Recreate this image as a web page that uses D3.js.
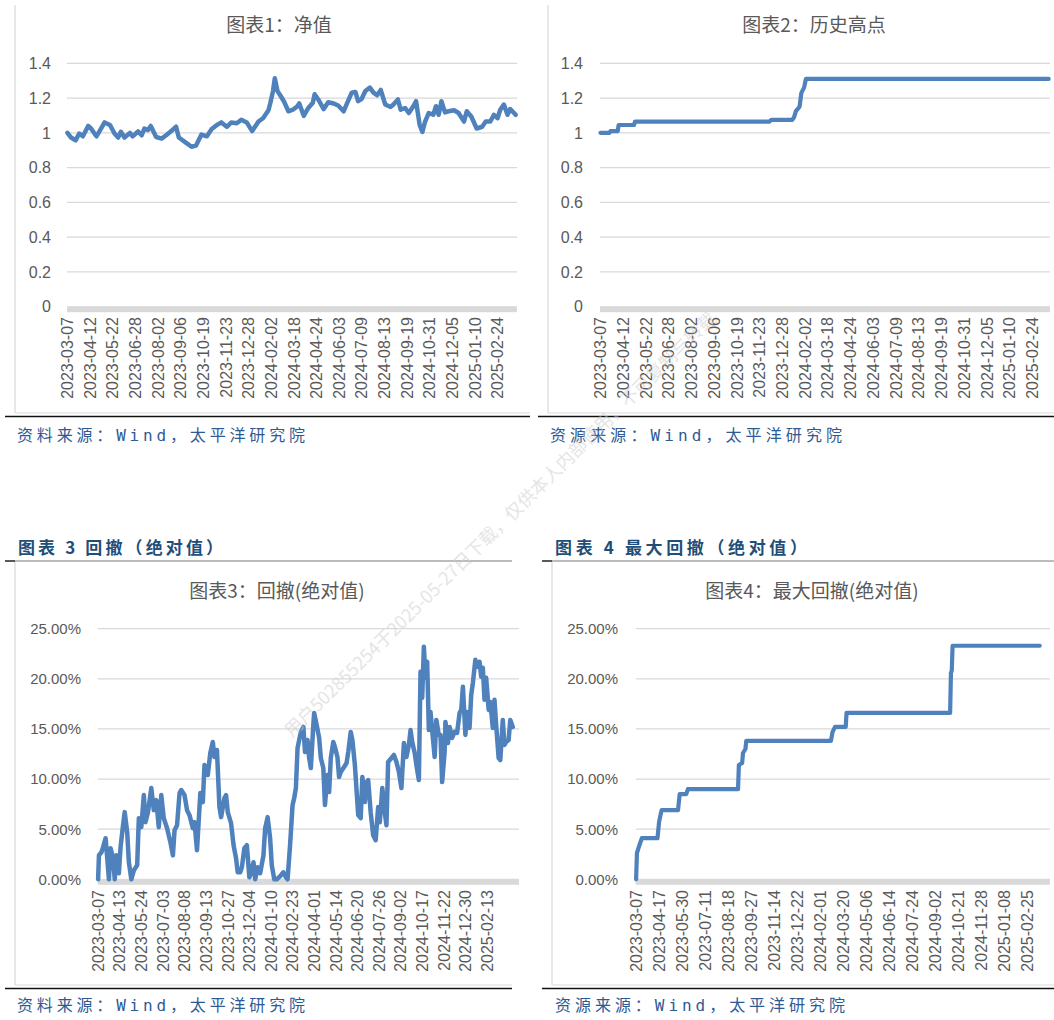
<!DOCTYPE html>
<html lang="zh">
<head>
<meta charset="UTF-8">
<title>净值与回撤</title>
<script src="https://d3js.org/d3.v7.min.js"></script>
<style>
  body { margin: 0; background: #fff; }
  svg { display: block; }
  .tick { font-family: "Liberation Sans", Arial, sans-serif; fill: #595959; }
  .title { font-family: "Noto Sans CJK SC", sans-serif; font-size: 19px; fill: #595959; }
  .header { font-family: "Noto Sans CJK SC", sans-serif; font-size: 17px; font-weight: bold; fill: #1F4E79; }
  .source { font-family: "DejaVu Sans Mono", "Noto Sans CJK SC", monospace; font-size: 16px; fill: #2E5A94; }
  .wm { font-family: "Noto Sans CJK SC", sans-serif; font-size: 18px; fill: #cccccc; opacity: 0.5; }
</style>
</head>
<body>
<svg id="chart" width="1054" height="1020"></svg>
<script>
// x labels: one label every 25 / 26 / 28 trading days
const labels1 = ["2023-03-07","2023-04-12","2023-05-22","2023-06-28","2023-08-02","2023-09-06","2023-10-19","2023-11-23","2023-12-28","2024-02-02","2024-03-18","2024-04-24","2024-06-03","2024-07-09","2024-08-13","2024-09-19","2024-10-31","2024-12-05","2025-01-10","2025-02-24"];
const labels3 = ["2023-03-07","2023-04-13","2023-05-24","2023-07-03","2023-08-08","2023-09-13","2023-10-27","2023-12-04","2024-01-10","2024-02-23","2024-04-01","2024-05-14","2024-06-20","2024-07-26","2024-09-02","2024-10-17","2024-11-22","2024-12-30","2025-02-13"];
const labels4 = ["2023-03-07","2023-04-17","2023-05-30","2023-07-11","2023-08-18","2023-09-27","2023-11-14","2023-12-22","2024-02-01","2024-03-20","2024-05-06","2024-06-14","2024-07-24","2024-09-02","2024-10-21","2024-11-28","2025-01-08","2025-02-25"];

const ticksNav = [0, 0.2, 0.4, 0.6, 0.8, 1, 1.2, 1.4];
const ticksPct = [0, 5, 10, 15, 20, 25];

// 净值 [trading-day index, value]
const nav = [[0,1.00],[4,0.973],[9,0.957],[13,0.996],[17,0.98],[23,1.04],[26,1.025],[32,0.98],[35,1.006],[41,1.06],[47,1.045],[52,0.996],[56,0.973],[59,1.006],[63,0.973],[69,1.0],[72,0.98],[78,1.008],[82,0.986],[85,1.025],[89,1.016],[92,1.04],[98,0.976],[104,0.967],[109,0.986],[115,1.012],[120,1.035],[123,0.973],[130,0.947],[137,0.92],[142,0.927],[148,0.99],[154,0.98],[159,1.02],[165,1.045],[170,1.06],[176,1.035],[181,1.06],[187,1.055],[192,1.075],[198,1.06],[204,1.01],[211,1.065],[216,1.084],[222,1.13],[224,1.17],[227,1.24],[229,1.314],[232,1.24],[235,1.216],[239,1.182],[244,1.124],[249,1.133],[254,1.153],[256,1.169],[261,1.098],[266,1.143],[271,1.173],[273,1.222],[277,1.192],[283,1.137],[288,1.176],[294,1.169],[299,1.157],[305,1.124],[309,1.173],[314,1.231],[318,1.235],[321,1.182],[325,1.196],[329,1.241],[334,1.26],[338,1.231],[342,1.216],[346,1.247],[351,1.163],[357,1.149],[360,1.163],[365,1.192],[368,1.133],[373,1.143],[377,1.114],[382,1.153],[385,1.182],[389,1.045],[392,1.006],[395,1.065],[399,1.114],[404,1.104],[407,1.153],[410,1.104],[413,1.182],[417,1.118],[421,1.124],[427,1.13],[432,1.114],[438,1.065],[441,1.124],[446,1.094],[452,1.025],[458,1.035],[462,1.065],[467,1.065],[471,1.104],[475,1.084],[478,1.133],[482,1.163],[486,1.104],[489,1.137],[495,1.104]];

// 历史高点 (step breakpoints)
const high = [[0,1.0],[10,1.0],[11,1.01],[19,1.01],[20,1.045],[37,1.045],[38,1.065],[186,1.065],[188,1.075],[211,1.075],[213,1.09],[215,1.125],[219,1.15],[221,1.23],[224,1.26],[226,1.31],[493,1.31]];

// 回撤(绝对值), %
const drawdown = [[0,0],[1,2.4],[4,2.7],[6,3.2],[9,4.1],[11,2.1],[13,0],[15,3.1],[18,2.1],[20,0],[22,2.4],[25,0.6],[27,3.2],[30,5.4],[32,6.7],[35,4.7],[37,1.7],[40,0],[43,0.9],[47,1.4],[49,6.1],[52,5.2],[55,8.4],[57,5.7],[60,6.7],[64,9.1],[67,6.9],[70,7.9],[73,5.2],[76,8.4],[79,6.1],[83,5.1],[87,3.7],[90,2.4],[92,4.9],[95,5.4],[98,8.6],[100,8.9],[104,8.4],[107,6.9],[110,6.4],[114,5.1],[116,5.7],[119,2.9],[123,8.6],[126,7.7],[128,11.4],[132,10.4],[135,12.6],[138,13.7],[140,12.2],[143,12.9],[146,7.2],[148,6.2],[152,8.1],[154,8.4],[156,6.7],[160,5.6],[163,3.4],[166,2.1],[168,0.7],[171,0.7],[173,1.2],[176,3.1],[179,3.4],[182,0.2],[184,0.6],[187,1.7],[189,0],[192,1.2],[195,0.6],[199,2.4],[201,5.1],[204,6.2],[207,4.1],[209,1.4],[212,0],[215,0],[220,0.4],[223,0.7],[226,0.2],[228,0],[231,3.4],[234,7.4],[236,8.1],[238,9.1],[240,13.1],[242,13.9],[244,14.7],[247,15.2],[249,12.7],[252,13.9],[254,12.1],[256,11.1],[259,15.4],[260,16.6],[263,15.4],[266,14.1],[268,12.1],[271,11.1],[273,7.4],[276,10.4],[278,8.7],[280,12.1],[283,13.7],[285,13.2],[288,12.2],[290,10.2],[292,10.7],[296,11.2],[299,11.6],[301,12.7],[304,14.7],[306,13.9],[309,11.4],[311,8.9],[313,6.4],[316,6.1],[318,10.2],[321,7.7],[323,9.7],[325,9.9],[328,6.7],[331,4.4],[334,3.9],[337,7.2],[339,5.7],[342,9.1],[345,6.7],[347,5.4],[349,11.7],[353,12.1],[356,12.4],[359,11.7],[362,10.7],[365,9.1],[368,13.6],[371,12.2],[374,13.4],[376,14.9],[378,13.7],[381,12.6],[383,11.4],[386,9.9],[388,20.7],[390,18.1],[392,23.2],[394,20.1],[396,21.7],[398,14.9],[400,16.7],[402,14.9],[405,12.2],[407,15.9],[410,14.4],[412,14.4],[414,9.7],[417,12.7],[418,15.7],[421,13.6],[423,15.2],[426,14.1],[429,14.7],[432,14.6],[435,16.6],[437,16.9],[439,19.2],[442,14.4],[444,16.7],[447,15.1],[449,18.4],[451,19.6],[454,21.9],[456,21.2],[459,21.7],[461,20.2],[463,21.1],[465,17.9],[467,20.1],[470,16.9],[472,17.7],[475,15.1],[477,17.9],[479,15.4],[482,12.1],[484,11.9],[487,15.9],[489,13.4],[491,13.7],[494,13.9],[496,15.9],[499,15.2]];

// 最大回撤(绝对值), % (step breakpoints)
const maxDrawdown = [[0,0],[1,2.6],[4,3.4],[7,4.1],[26,4.1],[28,5.75],[31,6.9],[51,6.9],[53,8.5],[61,8.5],[63,9.0],[124,9.0],[125,11.4],[129,11.6],[130,12.6],[133,13.0],[134,13.8],[237,13.8],[239,14.7],[242,15.2],[255,15.2],[256,16.6],[382,16.6],[383,20.6],[384,20.8],[385,23.3],[491,23.3]];

const svg = d3.select("#chart");
const blue = "#4F81BD";

function drawPanel(p) {
    let g = svg.append("g");

    // frame
    g.append("line").attr("x1", p.borderX).attr("x2", p.borderX).attr("y1", p.frameTop).attr("y2", p.frameBottom)
        .attr("stroke", "#d9d9d9").attr("stroke-width", 1.2);
    g.append("line").attr("x1", p.borderX).attr("x2", p.ruleRight).attr("y1", p.frameBottom).attr("y2", p.frameBottom)
        .attr("stroke", "#d9d9d9").attr("stroke-width", 1);
    g.append("line").attr("x1", p.ruleLeft).attr("x2", p.ruleRight).attr("y1", p.frameBottom + 3.5).attr("y2", p.frameBottom + 3.5)
        .attr("stroke", "#111").attr("stroke-width", 1.5);
    if (p.header) {
        g.append("line").attr("x1", p.borderX).attr("x2", p.ruleRight).attr("y1", p.frameTop).attr("y2", p.frameTop)
            .attr("stroke", "#a6a6a6").attr("stroke-width", 1.5);
        g.append("line").attr("x1", p.ruleLeft).attr("x2", p.borderX).attr("y1", p.frameTop).attr("y2", p.frameTop)
            .attr("stroke", "#222").attr("stroke-width", 1.5);
        g.append("text").attr("class", "header").attr("x", p.header.x).attr("y", p.header.y)
            .attr("textLength", p.header.w).attr("lengthAdjust", "spacing").text(p.header.text);
    }
    g.append("text").attr("class", "source").attr("x", p.source.x).attr("y", p.source.y)
        .attr("textLength", p.source.w).attr("lengthAdjust", "spacing").text(p.source.text);

    let x = d3.scaleLinear().domain([0, p.n]).range([p.left, p.right]);
    let y = d3.scaleLinear().domain(p.yDomain).range([p.bottom, p.top]);

    // gridlines
    g.selectAll(".grid").data(p.ticks.filter(t => t > 0)).join("line")
        .attr("x1", p.left).attr("x2", p.right)
        .attr("y1", d => y(d)).attr("y2", d => y(d))
        .attr("stroke", "#d9d9d9").attr("stroke-width", 1.3);
    // thick category axis
    g.append("rect").attr("x", p.left).attr("y", y(0) - 0.5).attr("width", p.right - p.left).attr("height", 6)
        .attr("fill", "#d9d9d9");

    // y tick labels
    g.selectAll(".ylab").data(p.ticks).join("text")
        .attr("class", "tick").attr("font-size", p.yFont)
        .attr("x", p.yLabelRight).attr("y", d => y(d)).attr("dy", "0.36em")
        .attr("text-anchor", "end").text(p.fmt);

    // x tick labels (rotated)
    g.selectAll(".xlab").data(p.labels).join("text")
        .attr("class", "tick").attr("font-size", p.xFont)
        .attr("text-anchor", "end").attr("dy", "0.36em")
        .attr("transform", (d, i) => `translate(${x(i * p.every + 0.5)},${p.xLabelTop}) rotate(-90)`)
        .text(d => d);

    // title
    g.append("text").attr("class", "title").attr("x", p.title.x).attr("y", p.title.y)
        .attr("text-anchor", "middle").text(p.title.text);

    // series
    let line = d3.line().x(d => x(d[0] + 0.5)).y(d => y(d[1]));
    g.append("path").datum(p.data).attr("d", line)
        .attr("fill", "none").attr("stroke", blue).attr("stroke-width", p.lineWidth)
        .attr("stroke-linejoin", "round").attr("stroke-linecap", "round");
}

const fmtNav = d => d3.format("~g")(d);
const fmtPct = d => d3.format(".2f")(d) + "%";

drawPanel({
    data: nav, labels: labels1, every: 25, n: 497, ticks: ticksNav, yDomain: [0, 1.4], fmt: fmtNav,
    left: 67, right: 517, top: 63.3, bottom: 306.7, yLabelRight: 51, yFont: 16, xFont: 16, xLabelTop: 317,
    borderX: 15, frameTop: 5, frameBottom: 413, ruleLeft: 5, ruleRight: 530, lineWidth: 4.5,
    title: { text: "图表1：净值", x: 279, y: 32 },
    source: { text: "资料来源：Wind，太平洋研究院", x: 17, y: 441, w: 288 }
});
drawPanel({
    data: high, labels: labels1, every: 25, n: 495, ticks: ticksNav, yDomain: [0, 1.4], fmt: fmtNav,
    left: 600, right: 1050, top: 63.3, bottom: 306.7, yLabelRight: 583, yFont: 16, xFont: 16, xLabelTop: 317,
    borderX: 548, frameTop: 5, frameBottom: 413, ruleLeft: 538, ruleRight: 1054, lineWidth: 4.2,
    title: { text: "图表2：历史高点", x: 814, y: 32 },
    source: { text: "资源来源：Wind，太平洋研究院", x: 550, y: 441, w: 292 }
});
drawPanel({
    data: drawdown, labels: labels3, every: 26, n: 507, ticks: ticksPct, yDomain: [0, 25], fmt: fmtPct,
    left: 97.7, right: 519, top: 628.7, bottom: 879.3, yLabelRight: 81, yFont: 15, xFont: 16, xLabelTop: 890,
    borderX: 15, frameTop: 561, frameBottom: 985, ruleLeft: 5, ruleRight: 512, lineWidth: 4.5,
    header: { text: "图表 3 回撤（绝对值）", x: 18, y: 554, w: 205 },
    title: { text: "图表3：回撤(绝对值)", x: 277, y: 598 },
    source: { text: "资料来源：Wind，太平洋研究院", x: 17, y: 1011, w: 288 }
});
drawPanel({
    data: maxDrawdown, labels: labels4, every: 28, n: 504, ticks: ticksPct, yDomain: [0, 25], fmt: fmtPct,
    left: 635.7, right: 1050, top: 628.7, bottom: 879.3, yLabelRight: 618, yFont: 15, xFont: 16, xLabelTop: 890,
    borderX: 552, frameTop: 561, frameBottom: 985, ruleLeft: 542, ruleRight: 1054, lineWidth: 4.2,
    header: { text: "图表 4 最大回撤（绝对值）", x: 555, y: 554, w: 252 },
    title: { text: "图表4：最大回撤(绝对值)", x: 812, y: 598 },
    source: { text: "资源来源：Wind，太平洋研究院", x: 555, y: 1011, w: 290 }
});

// faint diagonal watermark
svg.append("text").attr("class", "wm")
    .attr("transform", "translate(292,738) rotate(-44.5)")
    .text("用户502855254于2025-05-27日下载，仅供本人内部使用，不可复制与转载");
</script>
</body>
</html>
